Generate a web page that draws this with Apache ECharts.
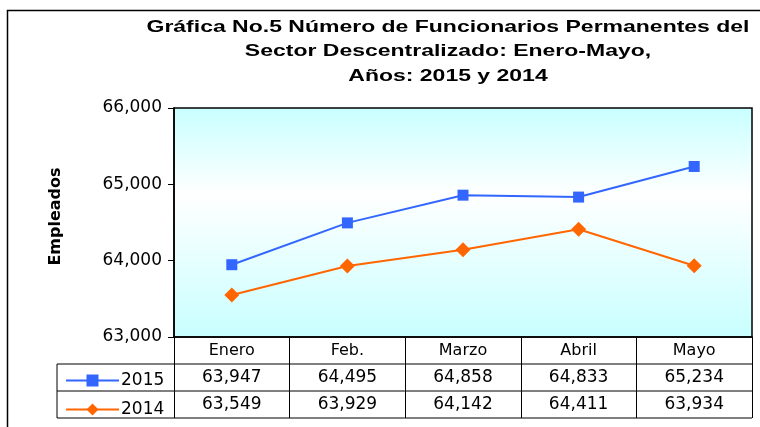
<!DOCTYPE html>
<html><head><meta charset="utf-8">
<script src="https://cdn.jsdelivr.net/npm/echarts@6/dist/echarts.min.js"></script>
<style>html,body{margin:0;padding:0;background:#fff}#c{width:760px;height:427px}</style>
</head><body><div id="c"></div>
<script>
const categories = ['Enero', 'Feb.', 'Marzo', 'Abril', 'Mayo'];
const values2015 = [63947, 64495, 64858, 64833, 65234];
const values2014 = [63549, 63929, 64142, 64411, 63934];
const seriesNames = ['2015', '2014'];
const yTicks = [63000, 64000, 65000, 66000];
const titleLines = ['Gráfica No.5 Número de Funcionarios Permanentes del', 'Sector Descentralizado: Enero-Mayo,', 'Años: 2015 y 2014'];
const yName = 'Empleados';

const fmt = v => v.toLocaleString('en-US');
const FONT = 'DejaVu Sans';
const TFONT = 'bold 17px "Liberation Sans"';
const ctx = document.createElement('canvas').getContext('2d');
ctx.font = TFONT;
const titleScale = 603 / ctx.measureText(titleLines[0]).width;

const chart = echarts.init(document.getElementById('c'), null, {renderer: 'canvas'});
chart.setOption({
  animation: false,
  backgroundColor: '#fff',
  legend: {
    orient: 'vertical', left: 60, top: 367, itemWidth: 53, itemHeight: 15, itemGap: 12,
    textStyle: {fontFamily: FONT, fontSize: 17, color: '#000', padding: [0,0,0,-3]},
    data: seriesNames
  },
  grid: {
    left: 174, right: 8, top: 108, bottom: 90, show: true,
    borderColor: '#000', borderWidth: 1.5,
    backgroundColor: {type: 'linear', x: 0, y: 0, x2: 0, y2: 1, colorStops: [
      {offset: 0, color: '#c8ffff'}, {offset: 0.38, color: '#ffffff'}, {offset: 1, color: '#c8ffff'}]}
  },
  xAxis: {
    type: 'category', data: categories, boundaryGap: true,
    axisLine: {lineStyle: {color: '#000', width: 1.5}},
    axisTick: {show: true, length: 81, lineStyle: {color: '#000', width: 1}},
    axisLabel: {
      margin: 0, interval: 0,
      formatter: (v, i) => `{h|${v}}\n{v|${fmt(values2015[i])}}\n{v|${fmt(values2014[i])}}`,
      rich: {
        h: {fontFamily: FONT, fontSize: 16, lineHeight: 27, color: '#000'},
        v: {fontFamily: FONT, fontSize: 17, lineHeight: 27, color: '#000'}
      }
    }
  },
  yAxis: {
    type: 'value', min: yTicks[0], max: yTicks[yTicks.length - 1], interval: 1000,
    name: yName, nameLocation: 'middle', nameGap: 110, nameRotate: 90,
    nameTextStyle: {fontFamily: FONT, fontWeight: 'bold', fontSize: 16, color: '#000', padding: [0,0,0,12]},
    axisLine: {show: true, lineStyle: {color: '#000', width: 1.5}},
    axisTick: {show: true, length: 6, lineStyle: {color: '#000'}},
    splitLine: {show: false},
    axisLabel: {margin: 12, formatter: v => fmt(v), fontFamily: FONT, fontSize: 17, color: '#000'}
  },
  series: [
    {name: seriesNames[0], type: 'line', data: values2015, symbol: 'rect', symbolSize: 11,
     itemStyle: {color: '#3366ff'}, lineStyle: {color: '#3366ff', width: 2}},
    {name: seriesNames[1], type: 'line', data: values2014, symbol: 'diamond', symbolSize: 15,
     itemStyle: {color: '#ff6600'}, lineStyle: {color: '#ff6600', width: 2}}
  ],
  graphic: [
    {type: 'text', silent: true, x: 448, y: 15, scaleX: titleScale,
     style: {text: titleLines.join('\n'), font: TFONT, fill: '#000', align: 'center', verticalAlign: 'top', lineHeight: 24.5}},
    {type: 'rect', silent: true, shape: {x: 7.5, y: 10.5, width: 800, height: 500}, style: {fill: null, stroke: '#000', lineWidth: 1.5}, z: 100},
    {type: 'line', silent: true, shape: {x1: 57, y1: 364, x2: 752, y2: 364}, style: {stroke: '#000', lineWidth: 1}},
    {type: 'line', silent: true, shape: {x1: 57, y1: 391, x2: 752, y2: 391}, style: {stroke: '#000', lineWidth: 1}},
    {type: 'line', silent: true, shape: {x1: 57, y1: 418, x2: 752, y2: 418}, style: {stroke: '#000', lineWidth: 1}},
    {type: 'line', silent: true, shape: {x1: 57, y1: 364, x2: 57, y2: 418}, style: {stroke: '#000', lineWidth: 1}}
  ]
});
</script></body></html>
